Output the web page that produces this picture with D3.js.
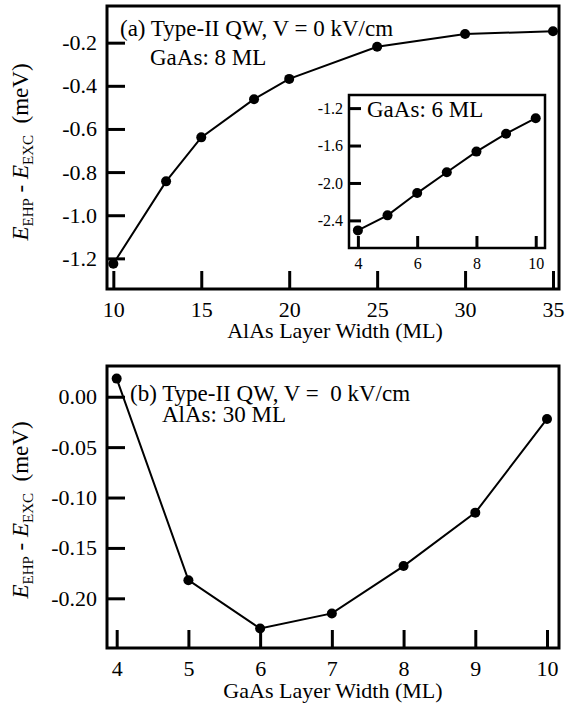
<!DOCTYPE html>
<meta charset="utf-8">
<style>
body { margin: 0; background: #fff; }
svg { display: block; }
.frame { fill: none; stroke: #000; stroke-width: 3px; }
.axis path { display: none; }
.axis line { stroke: #000; stroke-width: 3px; }
.curve { fill: none; stroke: #000; stroke-width: 2px; }
.dot { fill: #000; }
</style>
<svg width="574" height="708"></svg>
<script src="https://cdn.jsdelivr.net/npm/d3@7"></script>
<script>
// panel (a): AlAs width scan, GaAs 8 ML
var alasWidth = [10, 13, 15, 18, 20, 25, 30, 35];
var dE_gaas8 = [-1.225, -0.843, -0.639, -0.462, -0.368, -0.219, -0.160, -0.147];
var alasTicks = [10, 15, 20, 25, 30, 35];
var dETicksA = [-0.2, -0.4, -0.6, -0.8, -1.0, -1.2];

// inset: GaAs 6 ML
var gaasWidthInset = [4, 5, 6, 7, 8, 9, 10];
var dE_gaas6 = [-2.507, -2.346, -2.108, -1.886, -1.665, -1.474, -1.308];
var insetXTicks = [4, 6, 8, 10];
var insetYTicks = [-1.2, -1.6, -2.0, -2.4];

// panel (b): GaAs width scan, AlAs 30 ML
var gaasWidth = [4, 5, 6, 7, 8, 9, 10];
var dE_alas30 = [0.018, -0.182, -0.230, -0.215, -0.168, -0.115, -0.022];
var gaasTicks = [4, 5, 6, 7, 8, 9, 10];
var dETicksB = [0.00, -0.05, -0.10, -0.15, -0.20];

var serif = '"Liberation Serif", "Times New Roman", Times, serif';
var svg = d3.select("svg");

// plain hyphen for minus signs, like the original
function fmt(p) {
  var f = d3.format(p);
  return function(d) { return f(d).replace("\u2212", "-"); };
}

function panel(opt) {
  var x = d3.scaleLinear().domain(opt.xd).range([opt.x0, opt.x1]),
      y = d3.scaleLinear().domain(opt.yd).range([opt.y1, opt.y0]);
  var g = svg.append("g");

  g.append("g")
      .attr("class", "axis")
      .attr("transform", "translate(0," + opt.y1 + ")")
      .call(d3.axisBottom(x).tickValues(opt.xt).tickSize(-opt.tl).tickPadding(opt.xpad)
        .tickFormat(fmt("d")))
      .selectAll("text")
      .style("font-family", serif)
      .style("font-size", opt.fs + "px");

  g.append("g")
      .attr("class", "axis")
      .attr("transform", "translate(" + opt.x0 + ",0)")
      .call(d3.axisLeft(y).tickValues(opt.yt).tickSize(-opt.tl).tickPadding(opt.ypad)
        .tickFormat(fmt(opt.yf)))
      .selectAll("text")
      .style("font-family", serif)
      .style("font-size", opt.fs + "px");

  g.append("rect")
      .attr("class", "frame")
      .attr("x", opt.x0).attr("y", opt.y0)
      .attr("width", opt.x1 - opt.x0).attr("height", opt.y1 - opt.y0)
      .style("stroke-width", opt.sw);

  var pts = opt.xs.map(function(d, i) { return [d, opt.ys[i]]; });
  g.append("path")
      .attr("class", "curve")
      .attr("d", d3.line().x(function(d) { return x(d[0]); }).y(function(d) { return y(d[1]); })(pts));
  g.selectAll(".dot").data(pts).enter().append("circle")
      .attr("class", "dot")
      .attr("cx", function(d) { return x(d[0]); })
      .attr("cy", function(d) { return y(d[1]); })
      .attr("r", opt.r);
  return g;
}

function yTitle(cx, cy) {
  var t = svg.append("text")
      .attr("transform", "translate(" + cx + "," + cy + ") rotate(-90)")
      .attr("text-anchor", "middle")
      .style("font-family", serif)
      .style("white-space", "pre")
      .style("font-size", "23px");
  t.append("tspan").style("font-style", "italic").text("E");
  t.append("tspan").style("font-size", "15px").attr("dy", 5).text("EHP");
  t.append("tspan").attr("dy", -5).text(" - ");
  t.append("tspan").style("font-style", "italic").text("E");
  t.append("tspan").style("font-size", "15px").attr("dy", 5).text("EXC");
  t.append("tspan").attr("dy", -5).text("  (meV)");
}

function label(x, y, s, size, anchor) {
  svg.append("text").attr("x", x).attr("y", y)
      .attr("text-anchor", anchor || "start")
      .style("font-family", serif)
      .style("white-space", "pre")
      .style("font-size", (size || 23) + "px").text(s);
}

// (a)
panel({
  xs: alasWidth, ys: dE_gaas8, xt: alasTicks, yt: dETicksA,
  xd: [9.64, 35.34], yd: [-1.342, -0.030],
  x0: 107, x1: 559, y0: 6, y1: 289,
  tl: 18, fs: 22, xpad: 12, ypad: 10, sw: 3, r: 5,
  yf: ".1f"
});
yTitle(28, 152);
label(120, 36, "(a) Type-II QW, V = 0 kV/cm");
label(150, 65, "GaAs: 8 ML");
label(335, 338, "AlAs Layer Width (ML)", 22, "middle");

// inset
svg.append("rect").attr("x", 349).attr("y", 95).attr("width", 196).attr("height", 153).attr("fill", "#fff");
panel({
  xs: gaasWidthInset, ys: dE_gaas6, xt: insetXTicks, yt: insetYTicks,
  xd: [3.7, 10.313], yd: [-2.695, -1.06],
  x0: 349, x1: 545, y0: 95, y1: 248,
  tl: 12, fs: 16, xpad: 10, ypad: 6, sw: 2.5, r: 5,
  yf: ".1f"
});
label(367, 117, "GaAs: 6 ML");

// (b)
panel({
  xs: gaasWidth, ys: dE_alas30, xt: gaasTicks, yt: dETicksB,
  xd: [3.865, 10.167], yd: [-0.2493, 0.0305],
  x0: 107, x1: 559, y0: 366, y1: 648,
  tl: 18, fs: 22, xpad: 12, ypad: 10, sw: 3, r: 5,
  yf: ".2f"
});
yTitle(28, 510);
label(130, 401, "(b) Type-II QW, V =  0 kV/cm");
label(162, 422, "AlAs: 30 ML");
label(333, 698, "GaAs Layer Width (ML)", 22, "middle");
</script>
